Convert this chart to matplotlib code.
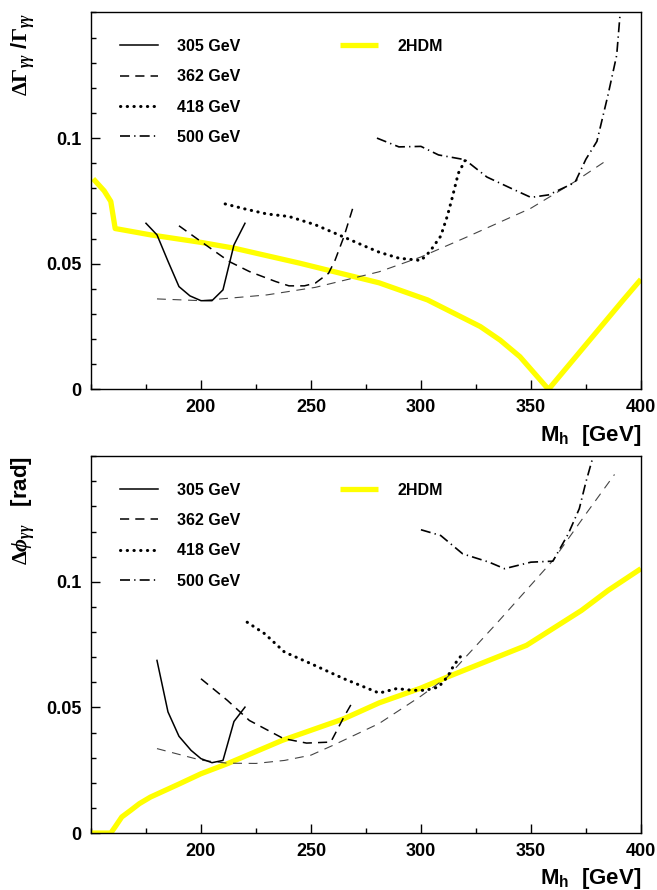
import matplotlib
matplotlib.use("Agg")
import matplotlib.pyplot as plt
from matplotlib.ticker import MultipleLocator, FixedLocator

plt.rcParams['font.family'] = ['Liberation Sans', 'DejaVu Sans']
plt.rcParams['font.weight'] = 'bold'
plt.rcParams['mathtext.fontset'] = 'custom'
plt.rcParams['mathtext.rm'] = 'Liberation Serif'
plt.rcParams['mathtext.it'] = 'Liberation Serif:italic'
plt.rcParams['mathtext.bf'] = 'Liberation Sans:bold'

# --- upper panel: Delta Gamma / Gamma ---
g_305_m = [175, 180, 185, 190, 195, 200, 205, 210, 215, 220]
g_305 = [0.0661, 0.0615, 0.0510, 0.0409, 0.0372, 0.0353, 0.0353, 0.0396, 0.0575, 0.0661]

g_362_m = [190, 201, 213, 222, 234, 240, 247, 252, 258, 261, 265, 269]
g_362 = [0.0651, 0.0582, 0.0508, 0.0469, 0.0429, 0.0412, 0.0412, 0.0423, 0.0462, 0.0515, 0.0608, 0.0721]

g_fit_m = [180, 200, 230, 252, 281, 300, 320, 350, 370, 383]
g_fit = [0.0360, 0.0353, 0.0376, 0.0406, 0.0468, 0.0527, 0.0603, 0.0721, 0.0827, 0.0903]

g_418_m = [211, 220, 230, 240, 252, 265, 275, 281, 290, 300, 304, 309, 312, 314, 317, 320]
g_418 = [0.0738, 0.0718, 0.0698, 0.0688, 0.0655, 0.0606, 0.0568, 0.0546, 0.0522, 0.0513,
         0.0548, 0.0610, 0.0690, 0.0755, 0.0860, 0.0910]

g_500_m = [280, 290, 300, 308, 320, 330, 341, 350, 358, 370, 375, 380, 385, 389, 390.5]
g_500 = [0.1000, 0.0965, 0.0967, 0.0933, 0.0914, 0.0845, 0.0800, 0.0764, 0.0774, 0.0823,
         0.0916, 0.0987, 0.1170, 0.1330, 0.1490]

g_2hdm_m = [151, 156, 159, 161, 163, 177, 200, 215, 245, 281, 303, 327, 336, 345, 358, 392, 400]
g_2hdm = [0.0838, 0.0790, 0.0748, 0.0640, 0.0637, 0.0615, 0.0585, 0.0562, 0.0502, 0.0424,
          0.0356, 0.0250, 0.0196, 0.0130, 0.0, 0.0356, 0.0438]

# --- lower panel: Delta phi ---
p_305_m = [180, 185, 190, 195.5, 200, 205, 210, 215, 220]
p_305 = [0.0687, 0.0482, 0.0385, 0.0329, 0.0296, 0.0280, 0.0289, 0.0444, 0.0501]

p_362_m = [200, 212, 222, 237.5, 248, 259, 265, 269.5]
p_362 = [0.0614, 0.0528, 0.0448, 0.0376, 0.0358, 0.0362, 0.0462, 0.0531]

p_fit_m = [180, 200, 212, 225, 238, 250, 260, 281, 300, 312, 335, 360, 375, 388]
p_fit = [0.0336, 0.0290, 0.0278, 0.0277, 0.0289, 0.0310, 0.0349, 0.0436, 0.0545, 0.0621,
         0.0840, 0.1085, 0.1270, 0.1427]

p_418_m = [221, 229, 238, 250, 265, 281, 289, 296, 302, 308, 312, 315, 319]
p_418 = [0.0839, 0.0793, 0.0720, 0.0674, 0.0614, 0.0557, 0.0575, 0.0568, 0.0568, 0.0581,
         0.0621, 0.0668, 0.0714]

p_500_m = [300, 309, 319, 331, 338, 350, 360, 367, 372, 375, 378]
p_500 = [0.1207, 0.1184, 0.1111, 0.1078, 0.1052, 0.1078, 0.1082, 0.1191, 0.1291, 0.1397, 0.1490]

p_2hdm_m = [150, 159, 161, 164, 168, 172, 177, 190, 200, 212, 237, 265, 281, 300, 312, 348, 373, 385, 400]
p_2hdm = [0.0, 0.0, 0.0025, 0.0064, 0.0090, 0.0117, 0.0143, 0.0195, 0.0236, 0.0276, 0.0369,
          0.0455, 0.0518, 0.0577, 0.0621, 0.0747, 0.0886, 0.0965, 0.1052]

labels = ['305 GeV', '362 GeV', '418 GeV', '500 GeV']

YELLOW = '#ffff00'
styles = [dict(color='black', lw=1.1, ls='-'),
          dict(color='black', lw=1.1, ls=(0, (6, 4))),
          dict(color='black', lw=2.2, ls=(0, (0.1, 2.1)), dash_capstyle='round'),
          dict(color='black', lw=1.2, ls=(0, (6, 2.5, 0.8, 2.5)))]
fit_style = dict(color='#444444', lw=0.8, ls=(0, (8, 6)))


def draw_panel(ax, curves, fit, hdm, ylabel):
    ax.plot(hdm[0], hdm[1], color=YELLOW, lw=3.8, solid_capstyle='butt', label='2HDM', zorder=2)
    ax.plot(fit[0], fit[1], **fit_style, zorder=3)
    handles = []
    for (m, v), lab, st in zip(curves, labels, styles):
        h, = ax.plot(m, v, label=lab, zorder=4, **st)
        handles.append(h)

    ax.set_xlim(150, 400)
    ax.set_ylim(0, 0.15)
    ax.xaxis.set_major_locator(FixedLocator([200, 250, 300, 350, 400]))
    ax.xaxis.set_minor_locator(MultipleLocator(25))
    ax.yaxis.set_major_locator(FixedLocator([0, 0.05, 0.1]))
    ax.yaxis.set_minor_locator(MultipleLocator(0.01))
    ax.set_yticklabels(['0', '0.05', '0.1'])
    ax.tick_params(which='both', direction='in', top=False, right=False)
    ax.tick_params(which='major', length=6.5, width=1.0, labelsize=13, pad=7)
    ax.tick_params(which='minor', length=3.3, width=1.0)
    for lab in ax.get_xticklabels() + ax.get_yticklabels():
        lab.set_fontweight('bold')
    for sp in ax.spines.values():
        sp.set_linewidth(1.0)

    ax.set_xlabel(r'$\mathbf{M_h}$  [GeV]', fontsize=16, fontweight='bold')
    ax.xaxis.set_label_coords(1.0, -0.088)
    ax.xaxis.label.set_ha('right')
    ax.xaxis.label.set_va('top')
    ax.set_ylabel(ylabel, fontsize=16, fontweight='bold')
    ax.yaxis.set_label_coords(-0.099, 1.0)
    ax.yaxis.label.set_ha('right')

    leg1 = ax.legend(handles=handles, loc='upper left', bbox_to_anchor=(0.052, 0.93),
                     frameon=False, fontsize=11.5, handlelength=2.4, handletextpad=1.2,
                     labelspacing=0.96, borderpad=0, borderaxespad=0)
    for t in leg1.get_texts():
        t.set_fontweight('bold')
    ax.add_artist(leg1)
    hdm_handle = ax.get_lines()[0]
    leg2 = ax.legend(handles=[hdm_handle], loc='upper left', bbox_to_anchor=(0.453, 0.93),
                     frameon=False, fontsize=11.5, handlelength=2.4, handletextpad=1.2,
                     borderpad=0, borderaxespad=0)
    for t in leg2.get_texts():
        t.set_fontweight('bold')


fig = plt.figure(figsize=(6.57, 8.9), dpi=100)
fig.patch.set_facecolor('white')

ax1 = fig.add_axes([0.1385, 0.5625, 0.837, 0.4235])
draw_panel(ax1,
           [(g_305_m, g_305), (g_362_m, g_362), (g_418_m, g_418), (g_500_m, g_500)],
           (g_fit_m, g_fit), (g_2hdm_m, g_2hdm),
           r'$\Delta\Gamma_{\gamma\gamma}$ /$\Gamma_{\gamma\gamma}$')

ax2 = fig.add_axes([0.1385, 0.064, 0.837, 0.4235])
draw_panel(ax2,
           [(p_305_m, p_305), (p_362_m, p_362), (p_418_m, p_418), (p_500_m, p_500)],
           (p_fit_m, p_fit), (p_2hdm_m, p_2hdm),
           r'$\Delta\phi_{\gamma\gamma}$   [rad]')

fig.savefig('out.png', dpi=100)
